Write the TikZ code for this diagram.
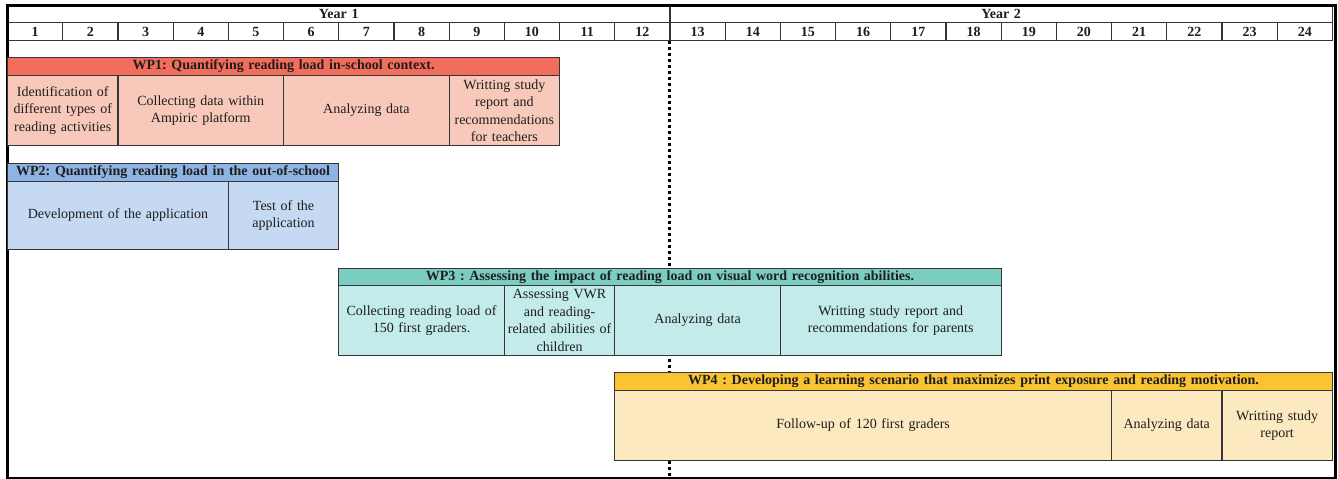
\documentclass[tikz,border=0pt]{standalone}
\usepackage{fontspec}
\setmainfont{Liberation Serif}
\frenchspacing
\definecolor{gridc}{HTML}{363636}
\definecolor{txt}{HTML}{1E1E1E}
\definecolor{wpa}{HTML}{F26D5B}
\definecolor{wpat}{HTML}{F8C9BB}
\definecolor{wpb}{HTML}{8EB4E3}
\definecolor{wpbt}{HTML}{C5D9F3}
\definecolor{wpc}{HTML}{7CCDC1}
\definecolor{wpct}{HTML}{C2EBEA}
\definecolor{wpd}{HTML}{F9C333}
\definecolor{wpdt}{HTML}{FDE9BF}
\newcommand\tasksize{\fontsize{14}{17.5}\selectfont}
\newcommand\hdrsize{\fontsize{14}{16}\selectfont\bfseries}
% #1 name, #2 first column, #3 number of columns, #4 top y, #5 height, #6 fill, #7 style, #8 text
\newcommand\gcell[8]{%
  \pgfmathsetmacro\gx{7+(#2-1)*55.2}%
  \pgfmathsetmacro\gw{#3*55.2}%
  \pgfmathsetmacro\gtw{#3*55.2-6}%
  \node[cellbox, fill=#6, minimum width=\gw pt, minimum height=#5pt, text width=\gtw pt, #7] (#1) at (\gx pt,-#4pt) {#8};%
}
\begin{document}
\begin{tikzpicture}[
  cellbox/.style={draw=gridc, line width=1.1pt, anchor=north west, inner xsep=3pt, inner ysep=0pt, align=center, font=\tasksize, text=txt},
  hdr/.style={font=\hdrsize},
  dotline/.style={draw=black, line width=2.6pt, dash pattern=on 2.6pt off 3.4pt},
  framebox/.style={draw=black, line width=2.5pt, anchor=north west, inner sep=0pt, minimum width=1328pt, minimum height=473pt}
]
\useasboundingbox (0,0) rectangle (1338pt,-479pt);
% header rows
\gcell{y1}{1}{12}{5}{17}{white}{hdr}{Year 1}
\gcell{y2}{13}{12}{5}{17}{white}{hdr}{Year 2}
\foreach \i in {1,...,24}{\gcell{m\i}{\i}{1}{22}{18}{white}{hdr}{\i}}
% frame and year divider
\node[framebox] (frame) at (6pt,-4pt) {};
\coordinate (dotend) at (m13.south west |- frame.south);
\draw[dotline] (m13.south west) -- (dotend);
% WP1
\gcell{wp1}{1}{10}{57}{18}{wpa}{hdr}{WP1: Quantifying reading load in-school context.}
\gcell{wp1a}{1}{2}{75}{70}{wpat}{}{Identification of\\different types of\\reading activities}
\gcell{wp1b}{3}{3}{75}{70}{wpat}{}{Collecting data within\\Ampiric platform}
\gcell{wp1c}{6}{3}{75}{70}{wpat}{}{Analyzing data}
\gcell{wp1d}{9}{2}{75}{70}{wpat}{}{Writting study\\report and\\recommendations\\for teachers}
% WP2
\gcell{wp2}{1}{6}{163}{18}{wpb}{hdr}{WP2: Quantifying reading load in the out-of-school}
\gcell{wp2a}{1}{4}{181}{68}{wpbt}{}{Development of the application}
\gcell{wp2b}{5}{2}{181}{68}{wpbt}{}{Test of the\\application}
% WP3
\gcell{wp3}{7}{12}{268}{17}{wpc}{hdr}{WP3 : Assessing the impact of reading load on visual word recognition abilities.}
\gcell{wp3a}{7}{3}{285}{70}{wpct}{}{Collecting reading load of\\150 first graders.}
\gcell{wp3b}{10}{2}{285}{70}{wpct}{}{Assessing VWR\\and reading-\\related abilities of\\children}
\gcell{wp3c}{12}{3}{285}{70}{wpct}{}{Analyzing data}
\gcell{wp3d}{15}{4}{285}{70}{wpct}{}{Writting study report and\\recommendations for parents}
% WP4
\gcell{wp4}{12}{13}{372}{18}{wpd}{hdr}{WP4 : Developing a learning scenario that maximizes print exposure and reading motivation.}
\gcell{wp4a}{12}{9}{390}{70}{wpdt}{}{Follow-up of 120 first graders}
\gcell{wp4b}{21}{2}{390}{70}{wpdt}{}{Analyzing data}
\gcell{wp4c}{23}{2}{390}{70}{wpdt}{}{Writting study\\report}
\end{tikzpicture}
\end{document}
